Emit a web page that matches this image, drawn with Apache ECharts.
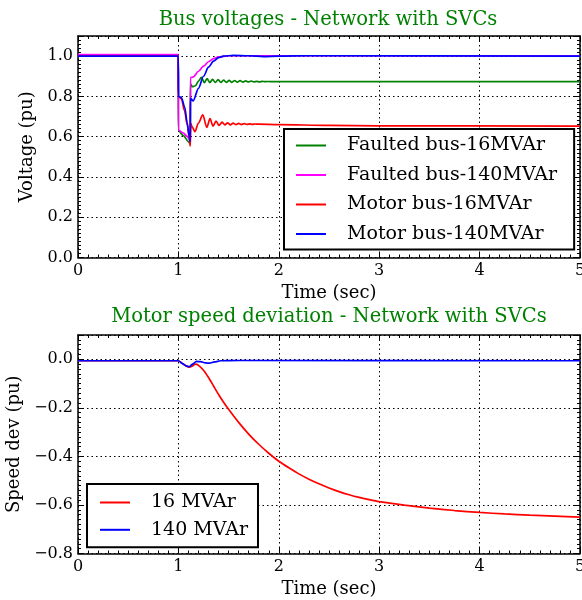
<!DOCTYPE html>
<html>
<head>
<meta charset="utf-8">
<title>Bus voltages - Network with SVCs</title>
<script src="https://cdn.jsdelivr.net/npm/echarts@6/dist/echarts.min.js"></script>
<style>
  html, body { margin: 0; padding: 0; background: #fff; }
  #chart { width: 582px; height: 600px; }
</style>
</head>
<body>
<div id="chart"></div>
<script>
// top plot: bus voltages (pu) against time (sec)
const faulted16Time = [0, 0.999, 1.0, 1.05, 1.1, 1.118, 1.12, 1.14, 1.17, 1.2, 1.23, 1.258, 1.285, 1.313, 1.34, 1.368, 1.395, 1.423, 1.45, 1.478, 1.505, 1.533, 1.56, 1.588, 1.615, 1.643, 1.67, 1.698, 1.725, 1.753, 1.78, 1.808, 1.835, 1.863, 1.89, 1.95, 5.0]
const faulted16Volt = [1.0, 1.0, 0.63, 0.605, 0.575, 0.563, 0.862, 0.848, 0.853, 0.876, 0.895, 0.868, 0.888, 0.868, 0.885, 0.869, 0.883, 0.869, 0.881, 0.870, 0.880, 0.870, 0.879, 0.871, 0.878, 0.871, 0.877, 0.872, 0.876, 0.872, 0.875, 0.872, 0.875, 0.873, 0.874, 0.873, 0.873]

const faulted140Time = [0, 0.999, 1.0, 1.05, 1.09, 1.11, 1.118, 1.12, 1.15, 1.2, 1.25, 1.3, 1.35, 1.4, 1.5, 5.0]
const faulted140Volt = [1.008, 1.008, 0.633, 0.618, 0.6, 0.586, 0.578, 0.893, 0.897, 0.925, 0.95, 0.972, 0.988, 0.996, 1.002, 1.002]

const motor16Time = [0, 0.999, 1.0, 1.03, 1.06, 1.09, 1.11, 1.118, 1.125, 1.135, 1.165, 1.2, 1.243, 1.283, 1.315, 1.345, 1.375, 1.405, 1.435, 1.463, 1.49, 1.518, 1.545, 1.573, 1.6, 1.628, 1.655, 1.683, 1.71, 1.738, 1.765, 1.8, 2.0, 2.5, 3.0, 5.0]
const motor16Volt = [1.0, 1.0, 0.80, 0.788, 0.73, 0.655, 0.585, 0.554, 0.665, 0.65, 0.625, 0.668, 0.708, 0.646, 0.69, 0.652, 0.677, 0.656, 0.672, 0.658, 0.669, 0.659, 0.667, 0.66, 0.666, 0.66, 0.665, 0.661, 0.664, 0.661, 0.663, 0.662, 0.66, 0.656, 0.654, 0.652]

const motor140Time = [0, 0.999, 1.0, 1.03, 1.064, 1.087, 1.107, 1.118, 1.12, 1.147, 1.2, 1.25, 1.3, 1.35, 1.4, 1.45, 1.55, 1.7, 1.85, 2.0, 2.3, 5.0]
const motor140Volt = [1.0, 1.0, 0.80, 0.794, 0.745, 0.67, 0.605, 0.575, 0.79, 0.778, 0.84, 0.9, 0.945, 0.975, 0.993, 1.0, 1.004, 1.002, 0.998, 1.0, 1.002, 1.0]

// bottom plot: motor speed deviation (pu)
const speed16Time = [0, 1.0, 1.05, 1.1, 1.13, 1.17, 1.2, 1.25, 1.3, 1.35, 1.4, 1.45, 1.5, 1.6, 1.7, 1.8, 1.9, 2.0, 2.1, 2.2, 2.3, 2.4, 2.5, 2.6, 2.7, 2.8, 2.9, 3.0, 3.25, 3.5, 3.75, 4.0, 4.25, 4.5, 4.75, 5.0]
const speed16Dev = [-0.006, -0.006, -0.02, -0.032, -0.03, -0.02, -0.025, -0.045, -0.075, -0.11, -0.145, -0.177, -0.206, -0.26, -0.308, -0.35, -0.387, -0.42, -0.447, -0.472, -0.494, -0.513, -0.53, -0.545, -0.558, -0.569, -0.578, -0.586, -0.601, -0.613, -0.623, -0.631, -0.637, -0.642, -0.646, -0.65]

const speed140Time = [0, 1.0, 1.04, 1.08, 1.11, 1.14, 1.18, 1.22, 1.27, 1.31, 1.36, 1.42, 1.6, 5.0]
const speed140Dev = [-0.006, -0.006, -0.018, -0.028, -0.03, -0.02, -0.009, -0.01, -0.015, -0.016, -0.011, -0.006, -0.005, -0.006]

const timeTicks = [0, 1, 2, 3, 4, 5]
const voltNames = ['Faulted bus-16MVAr', 'Faulted bus-140MVAr', 'Motor bus-16MVAr', 'Motor bus-140MVAr']
const speedNames = ['16 MVAr', '140 MVAr']

const FONT = 'DejaVu Serif'
const zip = (xs, ys) => xs.map((x, i) => [x, ys[i]])
const minus = (v) => String(v).replace('-', '\u2212')

const chart = echarts.init(document.getElementById('chart'))

function xAxisFor(gridIndex, onTop) {
  return {
    type: 'value',
    gridIndex: gridIndex,
    position: onTop ? 'top' : 'bottom',
    min: timeTicks[0],
    max: timeTicks[timeTicks.length - 1],
    interval: 1,
    name: onTop ? '' : 'Time (sec)',
    nameLocation: 'middle',
    nameGap: 27,
    nameTextStyle: { fontFamily: FONT, fontSize: 18, color: '#000' },
    axisLine: { show: true, onZero: false, lineStyle: { color: '#000', width: 1.5 } },
    axisTick: { show: true, inside: true, length: 6, lineStyle: { color: '#000' } },
    minorTick: { show: true, splitNumber: 10, length: 3, lineStyle: { color: '#000' } },
    axisLabel: { show: !onTop, margin: 5, fontFamily: FONT, fontSize: 16, color: '#000' },
    splitLine: { show: !onTop, lineStyle: { color: '#000', type: [1.5, 3], width: 1 } }
  }
}

function yAxisFor(gridIndex, onRight, min, max, name, gap) {
  return {
    type: 'value',
    gridIndex: gridIndex,
    position: onRight ? 'right' : 'left',
    min: min,
    max: max,
    interval: 0.2,
    name: onRight ? '' : name,
    nameLocation: 'middle',
    nameGap: gap,
    nameTextStyle: { fontFamily: FONT, fontSize: 18, color: '#000' },
    axisLine: { show: true, onZero: false, lineStyle: { color: '#000', width: 1.5 } },
    axisTick: { show: true, inside: true, length: 6, lineStyle: { color: '#000' } },
    minorTick: { show: true, splitNumber: 10, length: 3, lineStyle: { color: '#000' } },
    axisLabel: {
      show: !onRight,
      margin: 5,
      fontFamily: FONT,
      fontSize: 16,
      color: '#000',
      showMaxLabel: false,
      formatter: (v) => minus(v.toFixed(1))
    },
    splitLine: { show: !onRight, lineStyle: { color: '#000', type: [1.5, 3], width: 1 } }
  }
}

function lineSeries(name, color, data, xi, yi, monotone) {
  return {
    name: name,
    type: 'line',
    xAxisIndex: xi,
    yAxisIndex: yi,
    data: data,
    symbol: 'none',
    smooth: monotone ? 0.3 : 0.2,
    smoothMonotone: monotone ? 'x' : null,
    lineStyle: { color: color, width: 1.7 },
    itemStyle: { color: color }
  }
}

const legendText = { fontFamily: FONT, fontSize: 19, lineHeight: 14, color: '#000', padding: [0, 0, 0, 16] }

chart.setOption({
  animation: false,
  title: [
    {
      text: 'Bus voltages - Network with SVCs',
      left: 323, top: 5, textAlign: 'center',
      textStyle: { fontFamily: FONT, fontSize: 19.5, fontWeight: 'normal', color: '#008000' }
    },
    {
      text: 'Motor speed deviation - Network with SVCs',
      left: 324, top: 302, textAlign: 'center',
      textStyle: { fontFamily: FONT, fontSize: 19.5, fontWeight: 'normal', color: '#008000' }
    }
  ],
  grid: [
    { left: 78, right: 2, top: 36, height: 221.5, outerBoundsMode: 'none' },
    { left: 78, right: 2, top: 335, height: 218.5, outerBoundsMode: 'none' }
  ],
  xAxis: [xAxisFor(0, false), xAxisFor(0, true), xAxisFor(1, false), xAxisFor(1, true)],
  yAxis: [
    yAxisFor(0, false, 0, 1.1, 'Voltage (pu)', 40),
    yAxisFor(0, true, 0, 1.1, '', 0),
    yAxisFor(1, false, -0.8, 0.1, 'Speed dev (pu)', 53),
    yAxisFor(1, true, -0.8, 0.1, '', 0)
  ],
  legend: [
    {
      data: voltNames,
      orient: 'vertical',
      left: 284, top: 129,
      icon: 'rect',
      itemWidth: 30, itemHeight: 2, itemGap: 10.5,
      padding: [7, 17, 6, 12],
      borderColor: '#000', borderWidth: 2,
      backgroundColor: '#fff',
      textStyle: legendText
    },
    {
      data: speedNames,
      orient: 'vertical',
      left: 87, top: 484,
      icon: 'rect',
      itemWidth: 30, itemHeight: 2, itemGap: 8.3,
      padding: [9, 10, 8, 13],
      borderColor: '#000', borderWidth: 2,
      backgroundColor: '#fff',
      textStyle: legendText
    }
  ],
  series: [
    lineSeries(voltNames[0], '#008000', zip(faulted16Time, faulted16Volt), 0, 0, true),
    lineSeries(voltNames[1], '#ff00ff', zip(faulted140Time, faulted140Volt), 0, 0, true),
    lineSeries(voltNames[2], '#ff0000', zip(motor16Time, motor16Volt), 0, 0, true),
    lineSeries(voltNames[3], '#0000ff', zip(motor140Time, motor140Volt), 0, 0, true),
    lineSeries(speedNames[0], '#ff0000', zip(speed16Time, speed16Dev), 2, 2, false),
    lineSeries(speedNames[1], '#0000ff', zip(speed140Time, speed140Dev), 2, 2, true)
  ]
})
</script>
</body>
</html>
